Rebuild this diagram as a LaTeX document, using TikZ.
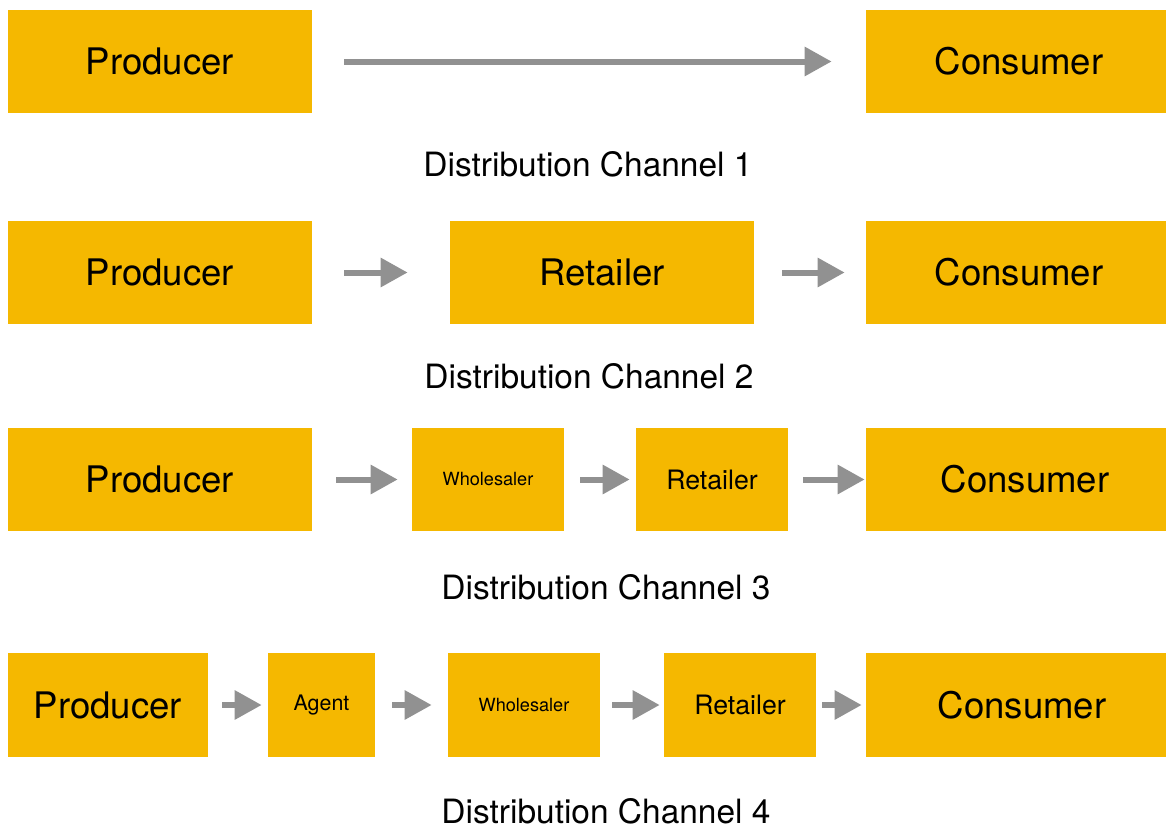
\documentclass[tikz,border=0pt]{standalone}
\usepackage{fontspec}
\setmainfont{TeX Gyre Heros}
\usetikzlibrary{arrows.meta, positioning}
\definecolor{boxorange}{HTML}{F5B800}
\definecolor{arrowgray}{HTML}{919191}

\begin{document}
\begin{tikzpicture}[x=0.025cm, y=-0.025cm, >={Triangle[length=0.675cm, width=0.7cm]}]
	\tikzstyle{stage} = [fill=boxorange, inner sep=0pt, minimum height=2.575cm, text=black]
	\tikzstyle{big} = [stage, minimum width=7.6cm, font=\fontsize{26}{30}\selectfont]
	\tikzstyle{mid} = [stage, minimum width=3.8cm, font=\fontsize{19}{22}\selectfont]
	\tikzstyle{tiny} = [stage, minimum width=3.8cm, font=\fontsize{12.9}{15}\selectfont]
	\tikzstyle{channel} = [inner sep=0pt, font=\fontsize{23.8}{28}\selectfont]
	\tikzstyle{flow} = [->, draw=arrowgray, line width=0.15cm]

	\useasboundingbox (0,0) rectangle (1167,830);

	% channel 1
	\begin{scope}
		\path
			node[big] (p1) at (160,61.5) {Producer}
			node[big, minimum width=7.5cm] (c1) at (1016,61.5) {\hspace{0.15cm}Consumer}
			node[channel] (l1) at (588,164) {Distribution Channel 1}

			(p1) edge[flow, shorten <=0.8cm, shorten >=0.85cm] (c1)
		;
	\end{scope}

	% channel 2
	\begin{scope}
		\path
			node[big] (p2) at (160,272.5) {Producer}
			node[big] (r2) at (602,272.5) {Retailer}
			node[big, minimum width=7.5cm] (c2) at (1016,272.5) {\hspace{0.15cm}Consumer}
			node[channel] (l2) at (589,376) {Distribution Channel 2}

			(p2) edge[flow, shorten <=0.8cm, shorten >=1.05cm] (r2)
			(r2) edge[flow, shorten <=0.7cm, shorten >=0.525cm] (c2)
		;
	\end{scope}

	% channel 3
	\begin{scope}
		\path
			node[big] (p3) at (160,479.5) {Producer}
			node[tiny] (w3) at (488,479.5) {Wholesaler}
			node[mid] (r3) at (712,479.5) {Retailer}
			node[big, minimum width=7.5cm] (c3) at (1016,479.5) {\hspace{0.45cm}Consumer}
			node[channel] (l3) at (606,587) {Distribution Channel 3}

			(p3) edge[flow, shorten <=0.6cm, shorten >=0.35cm] (w3)
			(w3) edge[flow, shorten <=0.4cm, shorten >=0.15cm] (r3)
			(r3) edge[flow, shorten <=0.375cm, shorten >=0.025cm] (c3)
		;
	\end{scope}

	% channel 4
	\begin{scope}
		\path
			node[big, minimum width=5cm] (p4) at (108,705) {Producer}
			node[stage, minimum width=2.675cm, font=\fontsize{15.2}{18}\selectfont] (a4) at (321.5,705) {Agent}
			node[tiny] (w4) at (524,705) {Wholesaler}
			node[mid] (r4) at (740,705) {Retailer}
			node[big, minimum width=7.5cm] (c4) at (1016,705) {\hspace{0.3cm}Consumer}
			node[channel] (l4) at (606,811) {Distribution Channel 4}

			(p4) edge[flow, shorten <=0.35cm, shorten >=0.15cm] (a4)
			(a4) edge[flow, shorten <=0.425cm, shorten >=0.4cm] (w4)
			(w4) edge[flow, shorten <=0.3cm, shorten >=0.1cm] (r4)
			(r4) edge[flow, shorten <=0.15cm, shorten >=0.1cm] (c4)
		;
	\end{scope}
\end{tikzpicture}
\end{document}
